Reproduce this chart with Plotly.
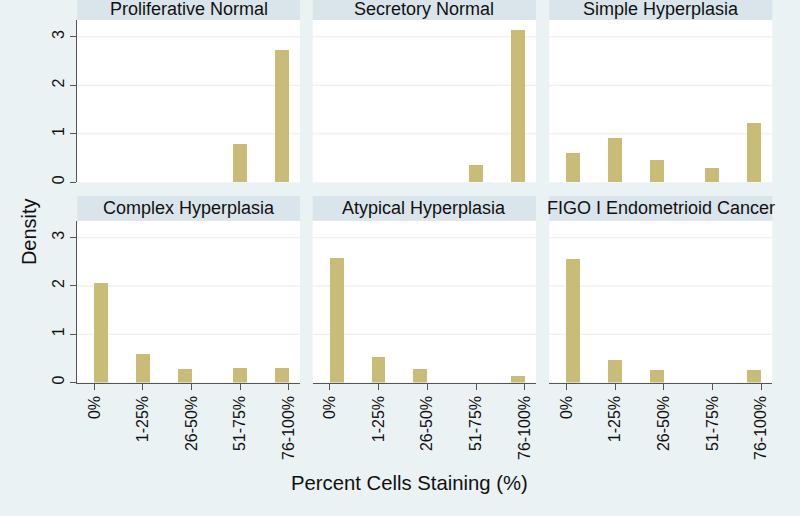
import math
import plotly.graph_objects as go

# ---- data ----
categories = ["0%", "1-25%", "26-50%", "51-75%", "76-100%"]
category_values = [0, 1, 2, 3, 4]
panel_names = ["Proliferative Normal", "Secretory Normal", "Simple Hyperplasia",
               "Complex Hyperplasia", "Atypical Hyperplasia", "FIGO I Endometrioid Cancer"]
proliferative_normal = [0, 0, 0, 0.79, 2.72]
secretory_normal = [0, 0, 0, 0.36, 3.15]
simple_hyperplasia = [0.61, 0.91, 0.46, 0.30, 1.22]
complex_hyperplasia = [2.06, 0.59, 0.27, 0.31, 0.31]
atypical_hyperplasia = [2.59, 0.53, 0.27, 0, 0.14]
figo_cancer = [2.55, 0.47, 0.25, 0, 0.25]
panel_values = [proliferative_normal, secretory_normal, simple_hyperplasia,
                complex_hyperplasia, atypical_hyperplasia, figo_cancer]
y_ticks = [0, 1, 2, 3]

# histogram binning (Stata-like: 14 bins over [0,4], right-closed)
n_bins = 14
lo, hi = 0.0, 4.0
bw = (hi - lo) / n_bins

def bin_center(v):
    idx = max(math.ceil(round((v - lo) / bw, 9)) - 1, 0)
    return lo + (idx + 0.5) * bw

W, H = 800, 516
BG = "#EAF2F3"
HDR = "#D9E5EA"
BAR = "#C9BC77"
AX = "#555555"
FONT = "Liberation Sans, Arial, sans-serif"

col_px = [(77.3, 300.0), (312.7, 536.0), (549.3, 772.3)]
row_plot_px = [(20.0, 183.0), (221.7, 384.0)]
row_hdr_px = [(-6.0, 20.0), (196.7, 221.7)]
hdr_text_px = [9.5, 209.0]

fig = go.Figure()
shapes = []
annotations = []

for i, (name, vals) in enumerate(zip(panel_names, panel_values)):
    r, c = divmod(i, 3)
    ax_id = "" if i == 0 else str(i + 1)
    xs, ys = [], []
    for v, d in zip(category_values, vals):
        if d > 0:
            xs.append(bin_center(v))
            ys.append(d)
    fig.add_trace(go.Bar(x=xs, y=ys, width=bw, marker=dict(color=BAR, line=dict(width=0)),
                         xaxis="x" + ax_id, yaxis="y" + ax_id, showlegend=False,
                         hoverinfo="skip"))
    x0, x1 = col_px[c]
    y0, y1 = row_plot_px[r]
    xa = dict(domain=[x0 / W, x1 / W], range=[-0.35, 4.23], anchor="y" + ax_id,
              showgrid=False, zeroline=False, fixedrange=True)
    if r == 1:
        xa.update(showline=True, linecolor=AX, linewidth=1, ticks="outside", ticklen=6,
                  tickcolor=AX, tickvals=category_values, ticktext=categories,
                  tickangle=-90, tickfont=dict(size=16, color="#111111", family=FONT))
    else:
        xa.update(showline=False, ticks="", showticklabels=False)
    ya = dict(domain=[1 - y1 / H, 1 - y0 / H], range=[0, 3.35], anchor="x" + ax_id,
              showgrid=False, zeroline=False,
              tickvals=y_ticks, fixedrange=True)
    if c == 0:
        ya.update(showline=True, linecolor=AX, linewidth=1, ticks="outside", ticklen=6,
                  tickcolor=AX, tickangle=-90,
                  tickfont=dict(size=16, color="#111111", family=FONT))
    else:
        ya.update(showline=False, ticks="", showticklabels=False)
    fig.layout["xaxis" + ax_id] = xa
    fig.layout["yaxis" + ax_id] = ya

    # light horizontal grid lines at the non-zero ticks
    for t in y_ticks[1:]:
        shapes.append(dict(type="line", xref="x" + ax_id + " domain", yref="y" + ax_id,
                           x0=0, x1=1, y0=t, y1=t, line=dict(color="#EBEBEB", width=1),
                           layer="below"))

    hy0, hy1 = row_hdr_px[r]
    shapes.append(dict(type="rect", xref="paper", yref="paper", x0=x0 / W, x1=x1 / W,
                       y0=1 - hy1 / H, y1=1 - hy0 / H, fillcolor=HDR, line=dict(width=0),
                       layer="below"))
    annotations.append(dict(text=name, xref="paper", yref="paper",
                            x=(x0 + x1) / 2 / W, y=1 - hdr_text_px[r] / H,
                            xanchor="center", yanchor="middle", showarrow=False,
                            font=dict(size=18, color="#111111", family=FONT)))

annotations.append(dict(text="Density", xref="paper", yref="paper", x=29 / W, y=1 - 232 / H,
                        textangle=-90, xanchor="center", yanchor="middle", showarrow=False,
                        font=dict(size=20, color="#111111", family=FONT)))
annotations.append(dict(text="Percent Cells Staining (%)", xref="paper", yref="paper",
                        x=410 / W, y=1 - 485 / H, xanchor="center", yanchor="middle",
                        showarrow=False, font=dict(size=20.3, color="#111111", family=FONT)))

fig.update_layout(width=W, height=H, margin=dict(l=0, r=0, t=0, b=0),
                  paper_bgcolor=BG, plot_bgcolor="white", shapes=shapes,
                  annotations=annotations, bargap=0, font=dict(family=FONT))
fig.write_html("out.html", config={"displayModeBar": False, "staticPlot": True},
               post_script="document.body.style.margin='0';document.body.style.background='" + BG + "';")
